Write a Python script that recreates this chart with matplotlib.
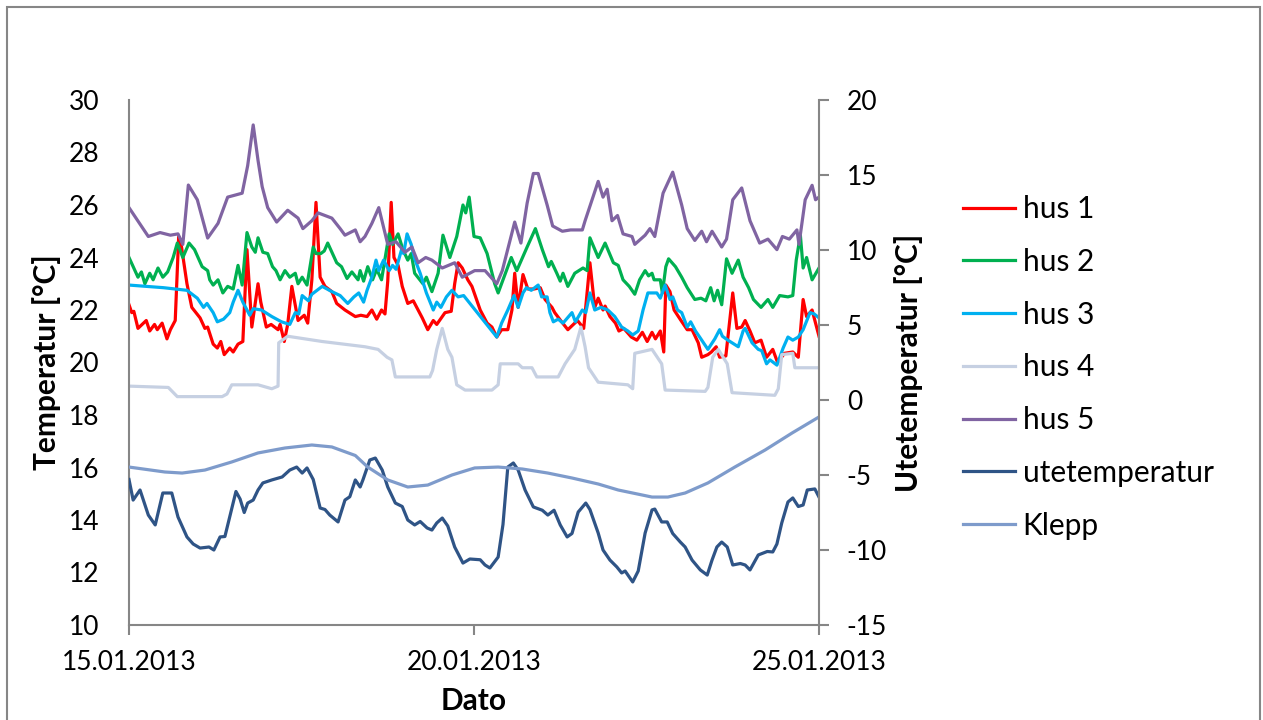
import matplotlib
matplotlib.use("Agg")
import matplotlib.pyplot as plt
from matplotlib.patches import Rectangle

plt.rcParams['font.family'] = ['Lato', 'DejaVu Sans']
plt.rcParams['axes.unicode_minus'] = False

# time in days after 15.01.2013 00:00
hus1_t = [0.00, 0.04, 0.07, 0.13, 0.25, 0.30, 0.37, 0.41, 0.48, 0.55, 0.60, 0.67, 0.72, 0.75, 0.84, 0.91,
          1.03, 1.10, 1.14, 1.22, 1.28, 1.33, 1.38, 1.46, 1.51, 1.58, 1.65, 1.71, 1.78, 1.87, 1.91, 1.99,
          2.06, 2.16, 2.19, 2.25, 2.30, 2.36, 2.45, 2.54, 2.59, 2.65, 2.71, 2.77, 2.84, 2.94, 3.01, 3.13,
          3.28, 3.36, 3.45, 3.52, 3.59, 3.66, 3.71, 3.75, 3.80, 3.84, 3.90, 3.96, 4.04, 4.12, 4.25, 4.33,
          4.41, 4.46, 4.58, 4.67, 4.72, 4.77, 4.83, 4.91, 4.97, 5.09, 5.19, 5.26, 5.33, 5.40, 5.49, 5.55,
          5.59, 5.64, 5.71, 5.78, 5.87, 5.96, 6.03, 6.13, 6.17, 6.27, 6.36, 6.50, 6.59, 6.68, 6.75, 6.80,
          6.87, 6.90, 6.97, 7.05, 7.10, 7.17, 7.28, 7.36, 7.44, 7.51, 7.58, 7.63, 7.70, 7.75, 7.78, 7.84,
          7.90, 8.00, 8.09, 8.16, 8.25, 8.30, 8.39, 8.44, 8.51, 8.56, 8.65, 8.75, 8.81, 8.88, 8.93, 9.00,
          9.07, 9.16, 9.24, 9.33, 9.40, 9.50, 9.62, 9.70, 9.77, 9.82, 9.90, 9.96, 10.00]
hus1 = [22.2, 21.9, 21.95, 21.3, 21.6, 21.2, 21.45, 21.25, 21.5, 20.9, 21.25, 21.6, 24.8, 24.6, 23.0, 22.1,
        21.7, 21.3, 21.35, 20.7, 20.55, 20.8, 20.3, 20.55, 20.4, 20.7, 20.8, 24.3, 21.35, 23.0, 22.3, 21.35,
        21.45, 21.25, 21.45, 20.8, 21.45, 22.9, 21.6, 21.8, 21.5, 23.15, 26.1, 23.25, 22.9, 22.7, 22.25, 22.0,
        21.75, 21.8, 21.75, 22.0, 21.65, 22.0, 21.85, 23.1, 26.1, 24.0, 23.7, 22.9, 22.25, 22.35, 21.7, 21.25,
        21.6, 21.45, 21.9, 21.95, 23.0, 23.8, 23.6, 23.15, 22.9, 22.0, 21.5, 21.35, 20.97, 21.25, 21.25, 22.0,
        23.4, 22.1, 23.35, 22.8, 22.8, 22.85, 22.4, 22.1, 21.9, 21.55, 21.25, 21.6, 21.3, 23.8, 22.1, 22.45,
        22.0, 22.15, 21.75, 21.5, 21.2, 21.3, 20.97, 20.85, 21.15, 20.8, 21.15, 20.9, 21.2, 20.4, 22.95, 22.7,
        22.0, 21.6, 21.25, 21.25, 20.75, 20.2, 20.3, 20.4, 20.6, 20.2, 20.25, 22.65, 21.3, 21.35, 21.6, 21.2,
        20.75, 20.85, 20.2, 20.5, 20.0, 20.35, 20.4, 20.2, 22.4, 21.75, 22.0, 21.4, 21.0]

hus2_t = [0.00, 0.07, 0.13, 0.18, 0.23, 0.30, 0.35, 0.42, 0.49, 0.56, 0.64, 0.70, 0.78, 0.87, 0.95, 1.06,
          1.14, 1.17, 1.22, 1.29, 1.36, 1.43, 1.51, 1.58, 1.64, 1.71, 1.78, 1.83, 1.87, 1.94, 2.01, 2.08,
          2.13, 2.19, 2.26, 2.33, 2.41, 2.45, 2.51, 2.58, 2.67, 2.71, 2.78, 2.83, 2.88, 3.01, 3.08, 3.16,
          3.23, 3.32, 3.35, 3.40, 3.46, 3.53, 3.59, 3.66, 3.77, 3.82, 3.90, 3.97, 4.04, 4.09, 4.14, 4.26,
          4.31, 4.39, 4.48, 4.55, 4.65, 4.75, 4.84, 4.88, 4.93, 5.00, 5.09, 5.19, 5.30, 5.35, 5.49, 5.54,
          5.62, 5.77, 5.89, 5.99, 6.08, 6.12, 6.20, 6.25, 6.29, 6.36, 6.46, 6.58, 6.64, 6.68, 6.80, 6.90,
          7.02, 7.09, 7.16, 7.25, 7.33, 7.40, 7.48, 7.53, 7.58, 7.61, 7.70, 7.73, 7.78, 7.82, 7.92, 8.01,
          8.09, 8.20, 8.29, 8.36, 8.43, 8.48, 8.53, 8.59, 8.66, 8.74, 8.83, 8.90, 8.98, 9.05, 9.16, 9.26,
          9.33, 9.43, 9.55, 9.62, 9.67, 9.73, 9.77, 9.82, 9.90, 10.00]
hus2 = [24.0, 23.6, 23.25, 23.45, 23.0, 23.4, 23.15, 23.6, 23.25, 23.45, 24.0, 24.55, 24.0, 24.55, 24.3, 23.65,
        23.5, 23.15, 22.95, 23.15, 22.65, 22.9, 22.8, 23.7, 22.95, 24.95, 24.4, 24.2, 24.75, 24.2, 24.15, 23.65,
        23.5, 23.15, 23.5, 23.25, 23.4, 23.0, 23.25, 22.95, 24.4, 24.15, 24.15, 24.25, 24.55, 23.8, 23.65, 23.2,
        23.45, 23.15, 23.5, 23.1, 23.65, 23.15, 23.55, 23.15, 24.9, 24.5, 24.9, 24.3, 23.9, 24.15, 23.4, 23.0,
        23.25, 22.7, 23.4, 24.85, 24.0, 24.8, 26.0, 25.7, 26.3, 24.8, 24.75, 24.15, 23.0, 22.65, 23.65, 24.0,
        23.5, 24.4, 25.1, 24.3, 23.65, 23.85, 23.4, 23.1, 23.4, 22.9, 23.4, 23.6, 23.5, 24.75, 24.0, 24.55,
        23.8, 23.7, 23.15, 22.9, 22.6, 23.15, 23.5, 23.3, 23.4, 23.15, 23.15, 22.65, 23.65, 23.95, 23.65, 23.25,
        22.85, 22.4, 22.45, 22.35, 22.85, 22.35, 22.75, 22.2, 23.95, 23.4, 23.9, 23.25, 22.85, 22.4, 22.1, 22.4,
        22.1, 22.55, 22.5, 22.55, 23.9, 24.85, 23.6, 24.0, 23.15, 23.6]

hus3_t = [0.00, 0.50, 0.84, 0.99, 1.08, 1.13, 1.22, 1.28, 1.37, 1.46, 1.51, 1.58, 1.65, 1.70, 1.75, 1.80,
          1.92, 2.07, 2.21, 2.33, 2.41, 2.46, 2.51, 2.60, 2.65, 2.80, 2.94, 3.06, 3.17, 3.26, 3.33, 3.40,
          3.45, 3.52, 3.58, 3.62, 3.69, 3.77, 3.82, 3.87, 3.95, 3.98, 4.03, 4.09, 4.14, 4.22, 4.31, 4.41,
          4.46, 4.52, 4.60, 4.68, 4.77, 4.85, 5.33, 5.40, 5.49, 5.58, 5.64, 5.71, 5.76, 5.83, 5.93, 5.98,
          6.06, 6.10, 6.15, 6.22, 6.29, 6.42, 6.47, 6.57, 6.62, 6.68, 6.75, 6.84, 6.94, 7.04, 7.14, 7.23,
          7.30, 7.38, 7.45, 7.52, 7.65, 7.70, 7.77, 7.84, 7.88, 7.95, 8.01, 8.09, 8.14, 8.21, 8.27, 8.39,
          8.49, 8.56, 8.60, 8.68, 8.83, 8.90, 8.93, 9.03, 9.12, 9.17, 9.24, 9.29, 9.39, 9.48, 9.55, 9.62,
          9.70, 9.77, 9.87, 9.93, 10.00]
hus3 = [22.95, 22.85, 22.75, 22.45, 22.1, 22.25, 21.9, 21.55, 21.65, 21.9, 22.3, 22.75, 22.3, 22.05, 21.8, 22.05,
        22.0, 21.75, 21.55, 21.45, 21.9, 21.85, 22.55, 22.35, 22.6, 22.9, 22.7, 22.55, 22.25, 22.5, 22.65, 22.3,
        22.75, 23.25, 23.9, 23.5, 23.9, 23.5, 23.7, 23.55, 24.3, 24.15, 24.9, 24.5, 23.95, 23.4, 22.65, 22.0,
        22.3, 22.1, 22.5, 22.75, 22.5, 22.55, 20.97, 21.5, 22.0, 22.55, 22.1, 22.65, 22.85, 22.75, 22.95, 22.5,
        22.5, 21.9, 21.55, 21.65, 21.5, 21.9, 21.55, 22.0, 21.9, 22.65, 22.0, 22.1, 22.0, 21.75, 21.35, 21.2,
        21.05, 21.2, 22.0, 22.65, 22.65, 22.45, 22.95, 22.4, 22.5, 22.0, 21.9, 21.35, 21.55, 21.2, 20.97, 20.5,
        20.9, 21.25, 21.0, 20.85, 20.6, 21.2, 21.3, 20.75, 20.5, 20.45, 19.95, 20.1, 19.9, 20.55, 20.97, 20.85,
        20.97, 21.25, 21.9, 21.85, 21.7]

hus4_t = [0.00, 0.57, 0.70, 1.35, 1.42, 1.49, 1.87, 2.07, 2.16, 2.17, 2.30, 2.80, 3.42, 3.61, 3.74, 3.81,
          3.86, 4.36, 4.40, 4.46, 4.54, 4.62, 4.68, 4.75, 4.87, 5.26, 5.35, 5.38, 5.64, 5.70, 5.84, 5.91,
          6.22, 6.32, 6.46, 6.55, 6.61, 6.66, 6.80, 7.23, 7.30, 7.33, 7.58, 7.72, 7.77, 8.35, 8.39, 8.46,
          8.54, 8.67, 8.74, 9.36, 9.41, 9.46, 9.62, 9.65, 10.00]
hus4 = [19.1, 19.05, 18.7, 18.7, 18.8, 19.15, 19.15, 19.0, 19.1, 20.75, 21.0, 20.8, 20.6, 20.5, 20.2, 20.1,
        19.45, 19.45, 19.7, 20.5, 21.3, 20.5, 20.2, 19.15, 18.95, 18.95, 19.15, 19.95, 19.95, 19.8, 19.8, 19.45,
        19.45, 19.95, 20.5, 21.35, 20.6, 19.8, 19.25, 19.15, 19.0, 20.35, 20.5, 19.95, 18.95, 18.9, 19.05, 20.2,
        20.5, 19.95, 18.85, 18.75, 19.0, 20.3, 20.35, 19.8, 19.8]

hus5_t = [0.00, 0.28, 0.45, 0.60, 0.71, 0.78, 0.86, 0.99, 1.14, 1.29, 1.43, 1.64, 1.72, 1.80, 1.87, 1.93,
          2.01, 2.14, 2.30, 2.45, 2.52, 2.65, 2.74, 2.94, 3.06, 3.13, 3.28, 3.35, 3.42, 3.52, 3.62, 3.75,
          3.87, 4.00, 4.10, 4.19, 4.30, 4.39, 4.54, 4.72, 4.83, 5.01, 5.16, 5.33, 5.41, 5.59, 5.68, 5.77,
          5.86, 5.93, 6.06, 6.14, 6.28, 6.40, 6.57, 6.61, 6.80, 6.87, 6.93, 7.00, 7.08, 7.16, 7.29, 7.33,
          7.48, 7.55, 7.62, 7.74, 7.88, 8.01, 8.09, 8.20, 8.30, 8.37, 8.45, 8.59, 8.66, 8.75, 8.88, 9.00,
          9.14, 9.26, 9.39, 9.47, 9.57, 9.68, 9.71, 9.80, 9.90, 9.95, 10.00]
hus5 = [25.9, 24.8, 24.95, 24.85, 24.9, 24.5, 26.76, 26.2, 24.74, 25.3, 26.3, 26.45, 27.5, 29.05, 27.7, 26.7,
        25.9, 25.35, 25.8, 25.5, 25.1, 25.4, 25.7, 25.5, 25.1, 24.85, 25.05, 24.6, 24.8, 25.3, 25.9, 24.5,
        24.6, 24.2, 24.4, 23.8, 24.0, 23.9, 23.6, 23.8, 23.25, 23.5, 23.5, 23.0, 23.5, 25.35, 24.55, 26.07,
        27.2, 27.2, 26.0, 25.2, 25.0, 25.05, 25.05, 25.4, 26.9, 26.3, 26.6, 25.4, 25.6, 24.9, 24.8, 24.5,
        24.85, 25.1, 24.8, 26.45, 27.25, 26.0, 25.1, 24.65, 25.0, 24.6, 25.0, 24.4, 24.7, 26.2, 26.65, 25.4,
        24.55, 24.7, 24.3, 24.8, 24.7, 25.05, 24.5, 26.2, 26.75, 26.2, 26.3]

ute_t = [0.00, 0.06, 0.16, 0.28, 0.38, 0.49, 0.62, 0.71, 0.84, 0.93, 1.03, 1.16, 1.23, 1.32, 1.39, 1.55,
         1.61, 1.67, 1.72, 1.80, 1.87, 1.94, 2.07, 2.22, 2.33, 2.43, 2.51, 2.58, 2.67, 2.77, 2.84, 2.91,
         3.03, 3.13, 3.20, 3.28, 3.35, 3.39, 3.49, 3.57, 3.67, 3.75, 3.86, 3.96, 4.04, 4.14, 4.22, 4.32,
         4.39, 4.46, 4.54, 4.62, 4.72, 4.84, 4.94, 5.09, 5.16, 5.23, 5.35, 5.42, 5.49, 5.57, 5.64, 5.74,
         5.86, 5.99, 6.07, 6.16, 6.25, 6.35, 6.42, 6.51, 6.62, 6.68, 6.80, 6.87, 6.97, 7.07, 7.14, 7.19,
         7.30, 7.38, 7.48, 7.58, 7.62, 7.72, 7.80, 7.88, 7.99, 8.06, 8.16, 8.28, 8.38, 8.45, 8.52, 8.59,
         8.67, 8.75, 8.86, 8.93, 9.00, 9.12, 9.25, 9.33, 9.39, 9.46, 9.55, 9.62, 9.70, 9.77, 9.83, 9.94,
         10.00]
ute = [-5.3, -6.67, -6.0, -7.67, -8.33, -6.2, -6.2, -7.8, -9.13, -9.6, -9.87, -9.8, -10.0, -9.13, -9.1, -6.1,
       -6.6, -7.5, -6.87, -6.67, -6.0, -5.53, -5.33, -5.13, -4.67, -4.47, -4.87, -4.53, -5.3, -7.2, -7.3, -7.67,
       -8.13, -6.67, -6.45, -5.33, -5.8, -5.33, -4.0, -3.87, -4.67, -5.8, -6.87, -7.1, -8.0, -8.33, -8.1, -8.53,
       -8.67, -8.2, -7.87, -8.4, -9.8, -10.87, -10.6, -10.65, -11.0, -11.2, -10.47, -8.3, -4.47, -4.2, -4.67, -6.0,
       -7.13, -7.35, -7.67, -7.35, -8.33, -9.13, -8.9, -7.47, -6.87, -7.3, -8.87, -10.0, -10.67, -11.13, -11.53, -11.4,
       -12.13, -11.4, -8.87, -7.33, -7.27, -8.13, -8.13, -8.9, -9.47, -9.8, -10.67, -11.33, -11.67, -10.67, -9.8, -9.47,
       -9.8, -11.0, -10.9, -11.0, -11.33, -10.33, -10.1, -10.13, -9.6, -8.2, -6.8, -6.53, -7.1, -7.0, -6.0, -5.93,
       -6.47]

klepp_t = [0.00, 0.52, 0.77, 1.10, 1.49, 1.87, 2.26, 2.65, 2.94, 3.28, 3.46, 3.75, 4.04, 4.33, 4.68, 5.01,
           5.35, 5.70, 6.07, 6.42, 6.80, 7.09, 7.58, 7.81, 8.06, 8.39, 8.78, 9.22, 9.61, 10.00]
klepp = [-4.47, -4.8, -4.87, -4.67, -4.13, -3.53, -3.2, -3.0, -3.13, -3.7, -4.47, -5.33, -5.8, -5.67, -5.0, -4.53,
         -4.47, -4.6, -4.87, -5.2, -5.6, -6.0, -6.47, -6.47, -6.2, -5.53, -4.47, -3.33, -2.2, -1.13]

xticks = [0, 5, 10]
xticklabels = ['15.01.2013', '20.01.2013', '25.01.2013']

gray = '#868686'
fs = 19      # tick labels
lfs = 21.5   # legend + axis titles

fig = plt.figure(figsize=(12.63, 7.2), dpi=100)
ax = fig.add_axes([129 / 1263, 95 / 720, 690 / 1263, 525 / 720])
ax2 = ax.twinx()

lw = 2.3
ax.plot(hus1_t, hus1, color='#FF0000', lw=lw, label='hus 1')
ax.plot(hus2_t, hus2, color='#00B050', lw=lw, label='hus 2')
ax.plot(hus3_t, hus3, color='#00B0F0', lw=lw, label='hus 3')
ax.plot(hus4_t, hus4, color='#C6D0E2', lw=lw, label='hus 4')
ax.plot(hus5_t, hus5, color='#8064A2', lw=lw, label='hus 5')
ax2.plot(ute_t, ute, color='#2F5486', lw=lw, label='utetemperatur')
ax2.plot(klepp_t, klepp, color='#7E9BCB', lw=lw, label='Klepp')

ax.set_xlim(0, 10)
ax.set_ylim(10, 30)
ax.set_yticks(range(10, 31, 2))
ax2.set_ylim(-15, 20)
ax2.set_yticks(range(-15, 21, 5))
ax.set_xticks(xticks)
ax.set_xticklabels(xticklabels)

for s in ['top', 'right']:
    ax.spines[s].set_visible(False)
for s in ['top', 'left', 'bottom']:
    ax2.spines[s].set_visible(False)
ax.spines['left'].set_color(gray)
ax.spines['bottom'].set_color(gray)
ax2.spines['right'].set_color(gray)
for s in [ax.spines['left'], ax.spines['bottom'], ax2.spines['right']]:
    s.set_linewidth(1.5)

ax.tick_params(axis='y', length=0, pad=21, labelsize=fs)
ax.tick_params(axis='x', length=7, width=1.5, color=gray, pad=11, labelsize=fs)
ax2.tick_params(axis='y', length=7, width=1.5, color=gray, pad=13, labelsize=fs)

ax.set_xlabel('Dato', fontsize=lfs, fontweight='bold', labelpad=9)
ax.set_ylabel('Temperatur [°C]', fontsize=lfs, fontweight='bold', labelpad=6)
ax2.set_ylabel('Utetemperatur [°C]', fontsize=lfs, fontweight='bold', labelpad=5)

h1, l1 = ax.get_legend_handles_labels()
h2, l2 = ax2.get_legend_handles_labels()
fig.legend(h1 + h2, l1 + l2, loc='upper left', bbox_to_anchor=(963 / 1263, 1 - 195 / 720),
           frameon=False, fontsize=lfs, borderpad=0, borderaxespad=0,
           handlelength=1.75, handletextpad=0.25, labelspacing=0.83)

fig.patches.append(Rectangle((7 / 1263, -0.1), 1253 / 1263, 1.1 - 7 / 720, transform=fig.transFigure,
                             fill=False, edgecolor=gray, lw=1.5))

fig.savefig('out.png', dpi=100)
